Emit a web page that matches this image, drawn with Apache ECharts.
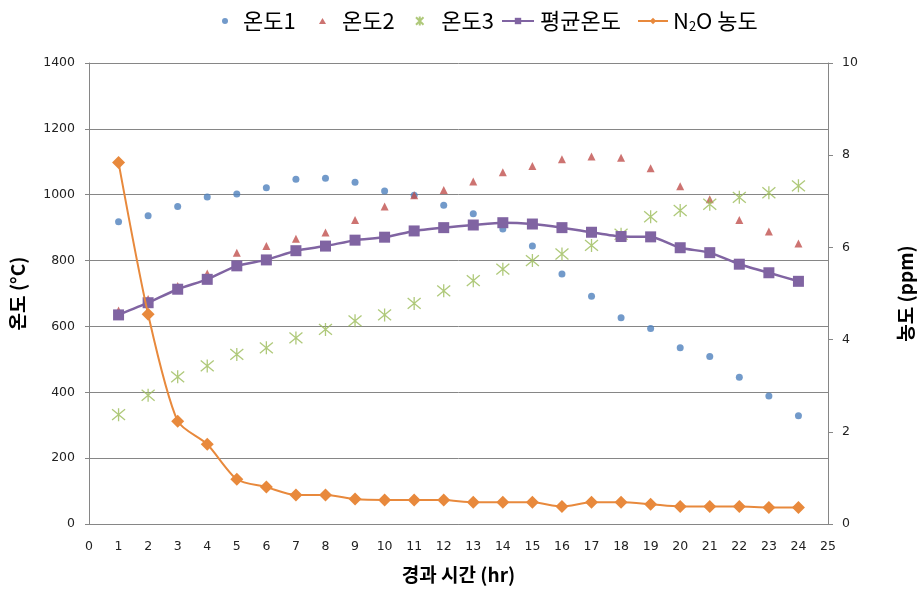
<!DOCTYPE html>
<html><head><meta charset="utf-8">
<script src="https://cdn.jsdelivr.net/npm/echarts@6/dist/echarts.min.js"></script>
<style>html,body{margin:0;padding:0;background:#fff}#c{width:923px;height:593px}</style>
</head><body><div id="c"></div>
<script>
const hours = [1,2,3,4,5,6,7,8,9,10,11,12,13,14,15,16,17,18,19,20,21,22,23,24];
const temp1 = [918,936,964,993,1002,1021,1047,1050,1038,1011,998,968,942,896,844,759,692,626,594,535,509,446,389,329];
const temp2 = [648,683,723,761,824,844,866,885,923,964,998,1014,1040,1068,1087,1108,1116,1112,1080,1026,986,923,888,852];
const temp3 = [332,391,447,480,515,535,565,591,617,635,670,708,739,774,800,820,846,880,933,952,971,992,1006,1027];
const avgTemp = [635,672,713,743,784,802,830,844,862,871,890,900,908,915,911,900,886,873,872,839,824,789,763,737];
const n2o = [7.84,4.55,2.23,1.73,0.97,0.80,0.63,0.63,0.54,0.52,0.52,0.52,0.47,0.47,0.47,0.38,0.47,0.47,0.43,0.38,0.38,0.38,0.36,0.36];
const seriesNames = ['온도1','온도2','온도3','평균온도','N2O 농도'];

const pair = arr => hours.map((h,i)=>[h,arr[i]]);
const font = 'DejaVu Sans';
const cjk = '"Noto Sans CJK KR"';
const axisGray = '#868686';
const starPath = 'path://M0,0 L10,10 M10,0 L0,10 M5,-1 L5,11';
const legendFmt = name => name==='N2O 농도' ? '{n|N}{sub|2}{n|O 농도}' : name;
function leg(name, left, w, h, padLeft){
  return {
    top:10, left:left, itemWidth:w, itemHeight:h, padding:0,
    textStyle:{fontFamily:cjk, fontSize:22, color:'#000', padding:[0,0,0,padLeft],
      rich:{sub:{fontFamily:cjk, fontSize:13, color:'#000', verticalAlign:'bottom', padding:[10,0,0,0]},
            n:{fontFamily:cjk,fontSize:22,color:'#000'}}},
    formatter:legendFmt, data:[name]
  };
}

const chart = echarts.init(document.getElementById('c'));
chart.setOption({
  animation:false,
  legend:[
    leg(seriesNames[0], 222, 6, 6, 10),
    leg(seriesNames[1], 319, 7, 6, 11),
    leg(seriesNames[2], 415, 9, 9, 12),
    leg(seriesNames[3], 501, 32, 8, 1),
    leg(seriesNames[4], 637, 30, 8, 0)
  ],
  grid:{left:87,right:93,top:63,bottom:69},
  xAxis:{
    type:'value', min:0, max:25, interval:1,
    name:'경과 시간 (hr)', nameLocation:'middle', nameGap:41,
    nameTextStyle:{fontFamily:cjk, fontSize:19, fontWeight:'bold', color:'#000'},
    axisLine:{show:true, onZero:false, lineStyle:{color:axisGray}},
    axisTick:{show:false},
    axisLabel:{fontFamily:font, fontSize:12.5, color:'#222', margin:16},
    splitLine:{show:false}
  },
  yAxis:[{
    type:'value', min:0, max:1400, interval:200, position:'left',
    name:'온도 (°C)', nameLocation:'middle', nameGap:62,
    nameTextStyle:{fontFamily:cjk, fontSize:19, fontWeight:'bold', color:'#000'},
    axisLine:{show:true, lineStyle:{color:axisGray}},
    axisTick:{show:true, length:4, lineStyle:{color:axisGray}},
    axisLabel:{fontFamily:font, fontSize:12.5, color:'#222', margin:14, formatter:v=>String(v)},
    splitLine:{show:true, lineStyle:{color:axisGray, width:1}}
  },{
    type:'value', min:0, max:10, interval:2, position:'right',
    name:'농도 (ppm)', nameLocation:'middle', nameGap:68,
    nameTextStyle:{fontFamily:cjk, fontSize:19, fontWeight:'bold', color:'#000'},
    axisLine:{show:true, lineStyle:{color:axisGray}},
    axisTick:{show:true, length:5, lineStyle:{color:axisGray}},
    axisLabel:{fontFamily:font, fontSize:12.5, color:'#222', margin:14},
    splitLine:{show:false}
  }],
  series:[
    {name:seriesNames[0], type:'scatter', data:pair(temp1), symbol:'circle', symbolSize:7,
     itemStyle:{color:'#4f81bd'}},
    {name:seriesNames[1], type:'scatter', data:pair(temp2), symbol:'triangle', symbolSize:8,
     itemStyle:{color:'#c0504d'}},
    {name:seriesNames[2], type:'scatter', data:pair(temp3), symbol:starPath, symbolSize:13,
     itemStyle:{color:'transparent', borderColor:'#9bbb59', borderWidth:1.3}},
    {name:seriesNames[3], type:'line', data:pair(avgTemp), symbol:'rect', symbolSize:11, smooth:0.2,
     lineStyle:{color:'#8064a2', width:2.5}, itemStyle:{color:'#8064a2'}, z:3},
    {name:seriesNames[4], type:'line', yAxisIndex:1, data:pair(n2o), symbol:'diamond', symbolSize:[13,13], smooth:0.25,
     lineStyle:{color:'#e8893c', width:2}, itemStyle:{color:'#e8893c'}, z:4}
  ]
});
</script></body></html>
